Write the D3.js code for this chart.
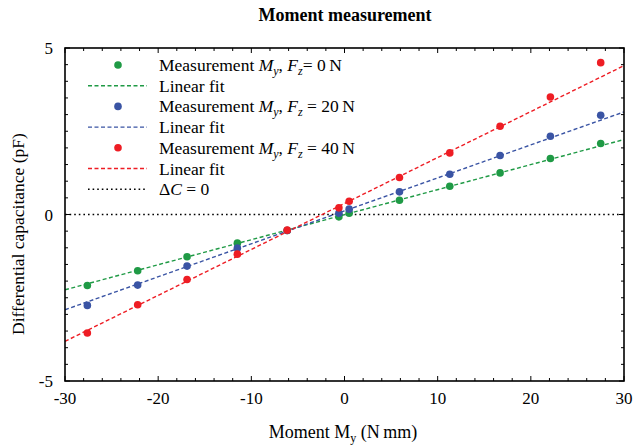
<!DOCTYPE html>
<html>
<head>
<meta charset="utf-8">
<script src="https://cdn.jsdelivr.net/npm/d3@7"></script>
<style>
  body { margin: 0; background: #fff; }
  svg { font-family: 'Liberation Serif', 'DejaVu Serif', serif; }
</style>
</head>
<body>
<svg id="chart" width="635" height="446"></svg>
<script>
const momentX = [-27.6, -22.2, -16.9, -11.5, -6.15, -0.6, 0.5, 5.9, 11.3, 16.7, 22.1, 27.5];
const capFz0 = [-2.13, -1.69, -1.27, -0.86, -0.48, -0.07, 0.04, 0.43, 0.85, 1.25, 1.68, 2.13];
const capFz20 = [-2.73, -2.12, -1.55, -1.01, -0.48, 0.04, 0.16, 0.68, 1.21, 1.77, 2.35, 2.98];
const capFz40 = [-3.56, -2.71, -1.95, -1.19, -0.47, 0.20, 0.40, 1.11, 1.85, 2.65, 3.53, 4.56];

// linear fits (slope, intercept) for 0, 20, 40 N
const fitSlope = [0.0752, 0.099, 0.138];
const fitIntercept = [-0.005, 0.11, 0.33];

const xTicks = [-30, -20, -10, 0, 10, 20, 30];
const yTicks = [-5, 0, 5];

const seriesNames = ['0', '20', '40'];
const colors = ['#1f9a45', '#3a54a4', '#ee1d24'];

const svg = d3.select('#chart');
const margin = {top: 48, right: 11, bottom: 65, left: 65};
const width = 635 - margin.left - margin.right;
const height = 446 - margin.top - margin.bottom;

const x = d3.scaleLinear().domain([-30, 30]).range([0, width]);
const y = d3.scaleLinear().domain([-5, 5]).range([height, 0]);

const g = svg.append('g').attr('transform', `translate(${margin.left},${margin.top})`);

// title
svg.append('text')
  .attr('x', 345).attr('y', 21)
  .attr('text-anchor', 'middle')
  .style('font-weight', 'bold')
  .style('font-size', '18px')
  .text('Moment measurement');

// clip for fit lines
svg.append('defs').append('clipPath').attr('id', 'plotclip')
  .append('rect').attr('width', width).attr('height', height);

// zero line
g.append('line')
  .attr('x1', 0).attr('x2', width)
  .attr('y1', y(0)).attr('y2', y(0))
  .attr('stroke', '#000').attr('stroke-width', 1.6)
  .attr('stroke-dasharray', '1.6,3');

// fit lines
const fits = g.append('g').attr('clip-path', 'url(#plotclip)');
fitSlope.forEach((m, i) => {
  fits.append('line')
    .attr('x1', x(-30)).attr('x2', x(30))
    .attr('y1', y(m * -30 + fitIntercept[i]))
    .attr('y2', y(m * 30 + fitIntercept[i]))
    .attr('stroke', colors[i]).attr('stroke-width', 1.4)
    .attr('stroke-dasharray', '4,2.5');
});

// points
[capFz0, capFz20, capFz40].forEach((vals, i) => {
  g.append('g').selectAll('circle')
    .data(vals)
    .enter().append('circle')
    .attr('cx', (d, j) => x(momentX[j]))
    .attr('cy', (d) => y(d))
    .attr('r', 3.8)
    .attr('fill', colors[i]);
});

// axes, ticks inward on all four sides
const tickLen = 5, minorLen = 3;
const xMinor = d3.range(-30, 31, 2);
const yMinor = d3.range(-5, 5.01, 0.5);

const ax = g.append('g').attr('stroke', '#000').attr('stroke-width', 1);
xMinor.forEach((v) => {
  const len = (v % 10 === 0) ? tickLen : minorLen;
  ax.append('line').attr('x1', x(v)).attr('x2', x(v)).attr('y1', height).attr('y2', height - len);
  ax.append('line').attr('x1', x(v)).attr('x2', x(v)).attr('y1', 0).attr('y2', len);
});
yMinor.forEach((v) => {
  const len = (Math.abs(v % 5) < 1e-6) ? tickLen : minorLen;
  ax.append('line').attr('x1', 0).attr('x2', len).attr('y1', y(v)).attr('y2', y(v));
  ax.append('line').attr('x1', width).attr('x2', width - len).attr('y1', y(v)).attr('y2', y(v));
});

g.append('rect')
  .attr('width', width).attr('height', height)
  .attr('fill', 'none').attr('stroke', '#000').attr('stroke-width', 1.6);

g.append('g').selectAll('text')
  .data(xTicks).enter().append('text')
  .attr('x', (d) => x(d)).attr('y', height + 23)
  .attr('text-anchor', 'middle')
  .style('font-size', '17px')
  .text((d) => d);

g.append('g').selectAll('text')
  .data(yTicks).enter().append('text')
  .attr('x', -12).attr('y', (d) => y(d) + 6)
  .attr('text-anchor', 'end')
  .style('font-size', '17px')
  .text((d) => d);

// axis labels
const xl = svg.append('text')
  .attr('x', 343).attr('y', 438)
  .attr('text-anchor', 'middle')
  .style('font-size', '18px');
xl.append('tspan').text('Moment M');
xl.append('tspan').attr('dy', 4).style('font-size', '12px').text('y');
xl.append('tspan').attr('dy', -4).text(' (N\u2009mm)');

svg.append('text')
  .attr('transform', 'translate(24,234) rotate(-90)')
  .attr('text-anchor', 'middle')
  .style('font-size', '17.5px')
  .text('Differential capacitance (pF)');

// legend
const leg = svg.append('g');
const rowY = (k) => 65 + k * 20.7;
const legText = (sel, yy) => sel.append('text').attr('x', 159).attr('y', yy + 6).style('font-size', '17.5px');

seriesNames.forEach((n, i) => {
  const y1 = rowY(i * 2), y2 = rowY(i * 2 + 1);
  leg.append('circle').attr('cx', 118).attr('cy', y1).attr('r', 3.8).attr('fill', colors[i]);
  const t = legText(leg, y1);
  t.append('tspan').text('Measurement ');
  t.append('tspan').style('font-style', 'italic').text('M');
  t.append('tspan').attr('dy', 4).style('font-size', '12px').style('font-style', 'italic').text('y');
  t.append('tspan').attr('dy', -4).text(', ');
  t.append('tspan').style('font-style', 'italic').text('F');
  t.append('tspan').attr('dy', 4).style('font-size', '12px').style('font-style', 'italic').text('z');
  t.append('tspan').attr('dy', -4).text((i === 0 ? '= ' : ' = ') + n + '\u2009N');

  leg.append('line').attr('x1', 88).attr('x2', 147).attr('y1', y2).attr('y2', y2)
    .attr('stroke', colors[i]).attr('stroke-width', 1.4).attr('stroke-dasharray', '4,2.5');
  legText(leg, y2).text('Linear fit');
});
const yz = rowY(6);
leg.append('line').attr('x1', 88).attr('x2', 147).attr('y1', yz).attr('y2', yz)
  .attr('stroke', '#000').attr('stroke-width', 1.6).attr('stroke-dasharray', '1.6,3');
const tz = legText(leg, yz);
tz.append('tspan').text('\u0394');
tz.append('tspan').style('font-style', 'italic').text('C');
tz.append('tspan').text(' = 0');
</script>
</body>
</html>
